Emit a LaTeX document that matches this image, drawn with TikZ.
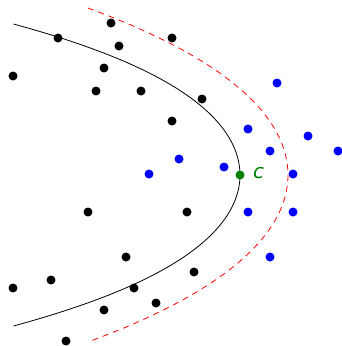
\documentclass[tikz,border=0pt]{standalone}
\usepackage{fontspec}
\newfontfamily\lblfont{DejaVu Sans}
\begin{document}
\begin{tikzpicture}[x=1pt,y=-1pt,
  dotstyle/.style={circle,inner sep=0pt,minimum size=9pt},
  bdot/.style={dotstyle,fill=black},
  udot/.style={dotstyle,fill=blue},
  gdot/.style={dotstyle,fill=green!50!black},
  boundary/.style={line width=0.8pt,black},
  margin/.style={line width=0.8pt,red,dash pattern=on 6pt off 5pt}]
\useasboundingbox (0,0) rectangle (342,346);
% curves
\draw[boundary] plot[domain=-1.51:1.51,samples=80,smooth,variable=\s]
  ({240-77*\s*\s-9.8*\s*\s*\s*\s},{175+100*\s});
\draw[margin] plot[domain=-1.67:1.67,samples=80,smooth,variable=\s]
  ({288-62*\s*\s-3.5*\s*\s*\s*\s},{175+100*\s});
% black points
\node[bdot] (b1) at (111,23) {};
\node[bdot] (b2) at (58,38) {};
\node[bdot] (b3) at (119,46) {};
\node[bdot] (b4) at (172,38) {};
\node[bdot] (b5) at (13,76) {};
\node[bdot] (b6) at (104,68) {};
\node[bdot] (b7) at (96,91) {};
\node[bdot] (b8) at (141,91) {};
\node[bdot] (b9) at (202,99) {};
\node[bdot] (b10) at (172,121) {};
\node[bdot] (b11) at (88,212) {};
\node[bdot] (b12) at (187,212) {};
\node[bdot] (b13) at (126,257) {};
\node[bdot] (b14) at (194,272) {};
\node[bdot] (b15) at (51,280) {};
\node[bdot] (b16) at (13,288) {};
\node[bdot] (b17) at (134,288) {};
\node[bdot] (b18) at (156,303) {};
\node[bdot] (b19) at (104,310) {};
\node[bdot] (b20) at (66,341) {};
% blue points
\node[udot] (u1) at (277,83) {};
\node[udot] (u2) at (248,129) {};
\node[udot] (u3) at (308,136) {};
\node[udot] (u4) at (270,151) {};
\node[udot] (u5) at (338,151) {};
\node[udot] (u6) at (179,159) {};
\node[udot] (u7) at (224,167) {};
\node[udot] (u8) at (149,174) {};
\node[udot] (u9) at (293,174) {};
\node[udot] (u10) at (248,212) {};
\node[udot] (u11) at (293,212) {};
\node[udot] (u12) at (270,257) {};
% center
\node[gdot] (c) at (240,175) {};
\node[text=green!50!black,font=\lblfont\itshape\fontsize{20}{20}\selectfont,anchor=center] (clabel) at (258.5,173) {c};
\end{tikzpicture}
\end{document}
